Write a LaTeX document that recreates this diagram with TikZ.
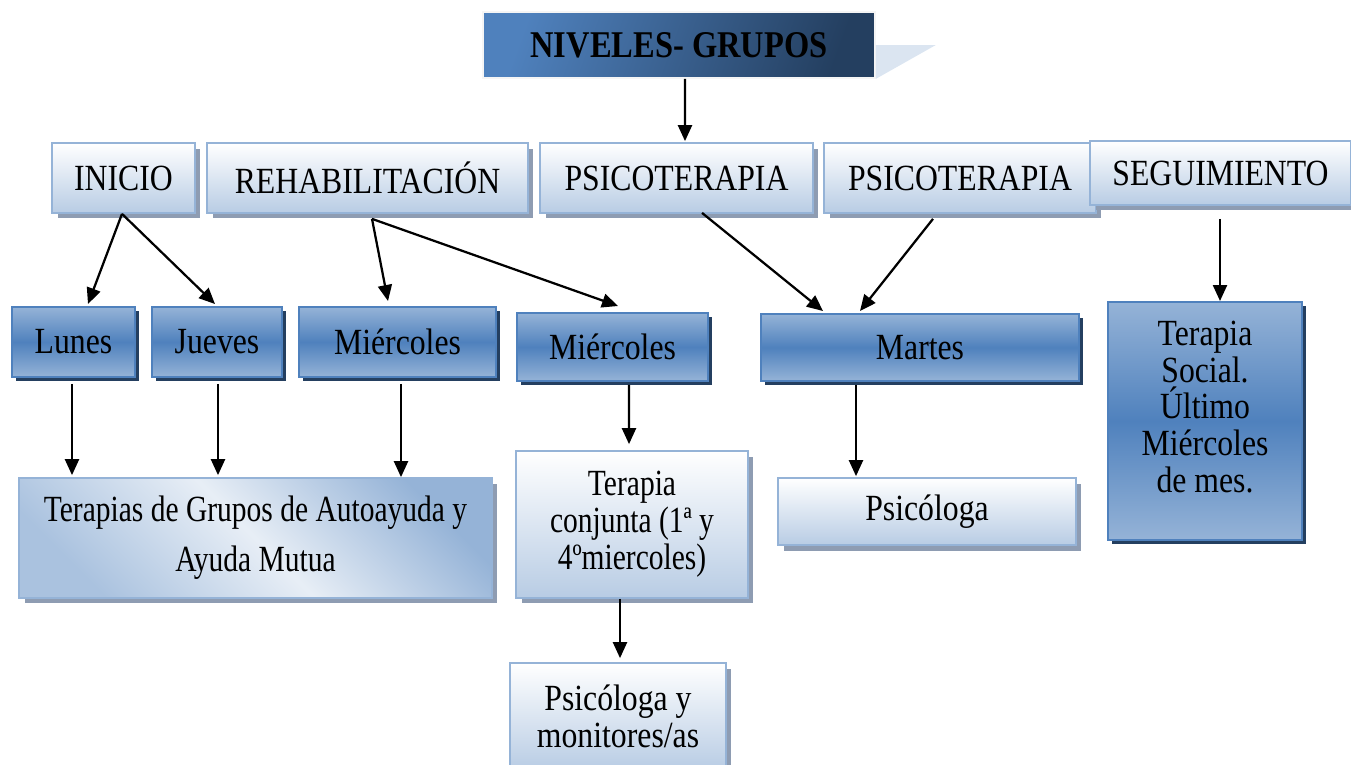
\documentclass[tikz,border=0pt]{standalone}
\usepackage{fontspec}
\setmainfont{Liberation Serif}[FakeStretch=0.86]
\newfontfamily\estrecha{Liberation Serif}[FakeStretch=0.8]
\usetikzlibrary{arrows.meta,calc,shadows}

\definecolor{azul}{HTML}{4F81BD}
\definecolor{azulclaro}{HTML}{95B3D7}
\definecolor{azulpalido}{HTML}{B8CCE4}
\definecolor{azulosc}{HTML}{243F60}
\definecolor{sombra}{HTML}{8E9CB2}
\definecolor{velo}{HTML}{DBE5F1}

\tikzset{
  nivel/.style={draw=azulclaro, line width=0.035cm, top color=white, bottom color=azulpalido,
    inner sep=0pt, align=center,
    drop shadow={fill=sombra, opacity=1, shadow xshift=0.11cm, shadow yshift=-0.11cm}},
  dia/.style={draw=azul, line width=0.04cm, top color=azulclaro, bottom color=azulclaro, middle color=azul,
    inner sep=0pt, align=center,
    drop shadow={fill=azulosc, opacity=1, shadow xshift=0.08cm, shadow yshift=-0.08cm}},
  flecha/.style={-{Triangle[length=0.32cm,width=0.28cm]}, line width=0.045cm},
}

\begin{document}
\begin{tikzpicture}[x=0.02cm, y=-0.02cm, font=\fontsize{21pt}{21pt}\selectfont]
        \clip (0,0) rectangle (1351,764);

        % Titulo
        \node [draw=white!92!gray, line width=0.035cm, left color=azul, right color=azulosc, shading angle=70,
               minimum width=7.84cm, minimum height=1.32cm, font=\fontsize{21.5pt}{21.5pt}\selectfont\bfseries]
              (title) at (679,45) {NIVELES- GRUPOS};
        \fill [velo] (title.east) -- ++(60,0) -- (title.south east) -- cycle;

        % Niveles
        \node [nivel, minimum width=2.86cm, minimum height=1.4cm] (inicio) at (123.5,178) {INICIO};
        \node [nivel, minimum width=6.42cm, minimum height=1.4cm] (rehab) at (367.5,178) {REHABILITACIÓN};
        \node [nivel, minimum width=5.46cm, minimum height=1.4cm] (psico1) at (676.5,178) {PSICOTERAPIA};
        \node [nivel, minimum width=5.44cm, minimum height=1.4cm] (psico2) at (960,178) {PSICOTERAPIA};
        \node [nivel, minimum width=5.22cm, minimum height=1.28cm] (seguim) at (1220.5,173) {SEGUIMIENTO};

        % Dias
        \node [dia, minimum width=2.46cm, minimum height=1.4cm] (lunes) at (73.5,342) {Lunes};
        \node [dia, minimum width=2.6cm, minimum height=1.4cm] (jueves) at (217,342) {Jueves};
        \node [dia, minimum width=3.94cm, minimum height=1.4cm] (mier1) at (397.5,342) {Miércoles};
        \node [dia, minimum width=3.82cm, minimum height=1.36cm] (mier2) at (612.5,347) {Miércoles};
        \node [dia, minimum width=6.36cm, minimum height=1.34cm] (martes) at (920,347.5) {Martes};
        \node [dia, minimum width=3.88cm, minimum height=4.76cm] (social) at (1205,421) {};
        \node [align=center] (socialtxt) at (1205,407) {Terapia\\Social.\\Último\\Miércoles\\de mes.};

        % Terapias
        \node [nivel, left color=azulclaro!80!white, right color=azulclaro, middle color=velo!65!white, shading angle=135,
               minimum width=9.46cm, minimum height=2.4cm, font=\fontsize{21pt}{21pt}\selectfont\estrecha]
              (grupos) at (255.5,538) {Terapias de Grupos de Autoayuda y\\[0.26cm]Ayuda Mutua};
        \node [nivel, minimum width=4.64cm, minimum height=2.94cm, font=\fontsize{21pt}{21pt}\selectfont\estrecha]
              (conjunta) at (632,524.5) {Terapia\\conjunta (1ª y\\4ºmiercoles)};
        \node [nivel, minimum width=5.96cm, minimum height=1.34cm] (psicologa) at (927,511.5) {Psicóloga};
        \node [nivel, minimum width=4.32cm, minimum height=2.14cm] (monitores) at (618,716.5)
              {Psicóloga y\\monitores/as};

        % Flechas
        \draw [flecha] ($(title.south)+(6,0)$) -- ($(psico1.north)+(8.5,-1)$);
        \draw [flecha] ($(inicio.south)+(-1.5,0)$) -- ($(lunes.north)+(14.5,-2)$);
        \draw [flecha] ($(inicio.south)+(-1.5,0)$) -- ($(jueves.north)+(-2,-2)$);
        \draw [flecha] ($(rehab.south)+(4.5,5)$) -- ($(mier1.north)+(-9.5,-5)$);
        \draw [flecha] ($(rehab.south)+(4.5,5)$) -- ($(mier2.north)+(5.5,-6)$);
        \draw [flecha] ($(psico1.south)+(25.5,-1)$) -- ($(martes.north)+(-97,-2)$);
        \draw [flecha] ($(psico2.south)+(-27,5)$) -- ($(martes.north)+(-60,-2)$);
        \draw [flecha] ($(seguim.south)+(-0.5,13)$) -- ($(social.north)+(15,0)$);
        \draw [flecha] ($(lunes.south)+(-1.5,6)$) -- ($(grupos.north)+(-183.5,-2)$);
        \draw [flecha] ($(jueves.south)+(1,6)$) -- ($(grupos.north)+(-37.5,-2)$);
        \draw [flecha] ($(mier1.south)+(3.5,6)$) -- ($(grupos.north)+(145.5,0)$);
        \draw [flecha] ($(mier2.south)+(16.5,3)$) -- ($(conjunta.north)+(-3,-6)$);
        \draw [flecha] ($(martes.south)+(-64,3)$) -- ($(psicologa.north)+(-71,-1)$);
        \draw [flecha] ($(conjunta.south)+(-12,0)$) -- ($(monitores.north)+(2,-4)$);
    \end{tikzpicture}
\end{document}
